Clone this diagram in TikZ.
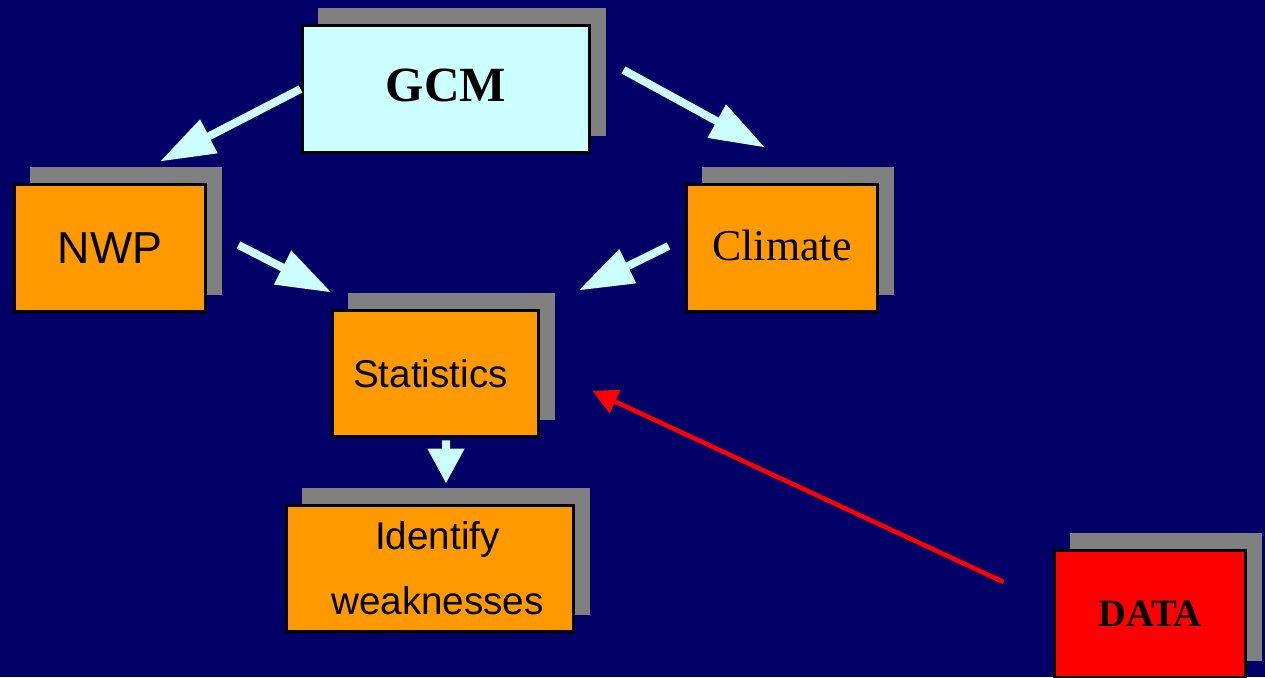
\documentclass[tikz,border=0pt]{standalone}
\usepackage{fontspec}
\setmainfont{Liberation Serif}
\newfontfamily\arialfont{Liberation Sans}
\usetikzlibrary{arrows.meta,calc,shadows}
\definecolor{navy}{HTML}{000066}
\definecolor{boxorange}{HTML}{FF9900}
\definecolor{boxcyan}{HTML}{CCFFFF}
\definecolor{shadowgray}{HTML}{808080}
\definecolor{linkcyan}{HTML}{CCFFFF}
\begin{document}
\begin{tikzpicture}[x={(0.02cm,0)},y={(0,-0.02cm)},
  panel/.style={draw=black,line width=0.06cm,minimum height=2.56cm,inner sep=0pt,
    drop shadow={shadow xshift=0.32cm,shadow yshift=0.34cm,opacity=1,fill=shadowgray}},
  orangebox/.style={panel,fill=boxorange},
  flow/.style={draw=linkcyan,line width=0.16cm,-{Triangle[length=1.1cm,width=0.72cm]}},
  shortflow/.style={draw=linkcyan,line width=0.16cm,-{Triangle[length=0.7cm,width=0.7cm]}},
  feed/.style={draw=red,line width=0.09cm,-{Triangle[length=0.5cm,width=0.5cm]}}]
  % backdrop fixes the page size
  \fill[navy] (0,0) rectangle (1265,677);
  \useasboundingbox (0,0) rectangle (1265,677);

  % boxes
  \node[panel,fill=boxcyan,minimum width=5.76cm] (gcm) at (446,89)
    {\fontsize{28}{30}\selectfont\bfseries\raisebox{0.16cm}{GCM}};
  \node[orangebox,minimum width=3.84cm] (nwp) at (110,248)
    {\arialfont\fontsize{25.5}{28}\selectfont NWP};
  \node[orangebox,minimum width=3.84cm] (climate) at (782,248)
    {\fontsize{25}{28}\selectfont\raisebox{0.1cm}{Climate}};
  \node[orangebox,minimum width=4.14cm,minimum height=2.54cm] (stats) at (435.5,373.5)
    {\arialfont\fontsize{22}{26}\selectfont Statistics\hspace*{0.2cm}};
  \node[orangebox,minimum width=5.76cm,minimum height=2.54cm,align=center,
    font=\arialfont\fontsize{22}{37}\selectfont] (ident) at (430,568.5)
    {\hspace*{0.3cm}Identify\\\hspace*{0.3cm}weaknesses};
  \node[panel,fill=red,minimum width=3.84cm] (data) at (1150,614)
    {\fontsize{22}{26}\selectfont\bfseries DATA};

  % connectors
  \draw[flow] (gcm.west) -- ($(nwp.north)+(50,-21)$);
  \draw[flow] ($(gcm.east)+(32,-19)$) -- ($(climate.north)+(-17,-35)$);
  \draw[flow] ($(nwp.east)+(31,-3)$) -- ($(stats.north west)+(1,-16)$);
  \draw[flow] ($(climate.west)+(-16,-2)$) -- ($(stats.north east)+(38,-18)$);
  \draw[shortflow] ($(stats.south)+(10.5,2)$) -- ($(ident.north)+(16,-20)$);
  \draw[feed] ($(data.west)+(-49,-32)$) -- ($(stats.east)+(52,17.5)$);
\end{tikzpicture}
\end{document}
